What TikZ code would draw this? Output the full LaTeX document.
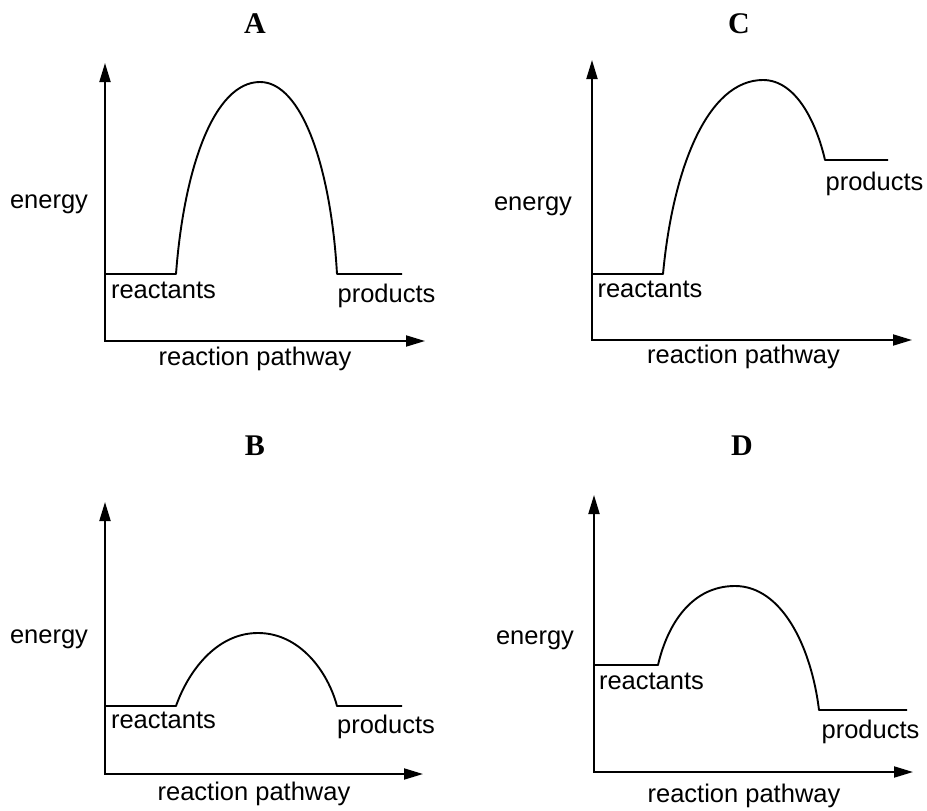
\documentclass[tikz,border=0pt]{standalone}
\usepackage{fontspec}
\setmainfont{Liberation Sans}
\newfontfamily\titlefont{Liberation Serif}
\usetikzlibrary{arrows.meta}

\begin{document}
\begin{tikzpicture}[x=1pt,y=-1pt,
  axis/.style={line width=1.9pt,{Triangle[length=19pt,width=11pt]}-{Triangle[length=19pt,width=11pt]}},
  curve/.style={line width=1.9pt,line join=round},
  lab/.style={font=\fontsize{25.5}{30}\selectfont,inner sep=0pt},
  ttl/.style={font=\titlefont\bfseries\fontsize{30}{34}\selectfont,inner sep=0pt},
  every node/.append style={text height=18pt,text depth=5pt}]
\useasboundingbox (0,0) rectangle (927,811);
\newcommand{\rxnaxes}[5]{
  \coordinate (#1o) at (#2,#3);
  \coordinate (#1t) at (#2,#4);
  \coordinate (#1e) at (#5,#3);
  \draw[axis] (#1t) -- (#1o) -- (#1e);
}
% A
\rxnaxes{A}{105}{341}{63}{425}
\draw[curve] (105,274) -- (176,274) .. controls (184,168) and (214,82) .. (260,82)
  .. controls (302,82) and (331,168) .. (337,274) -- (402,274);
\node[ttl] (Attl) at (255,27.5) {A};
\node[lab] (Aen) at (49,201.5) {energy};
\node[lab] (Arct) at (163.5,291.5) {reactants};
\node[lab] (Aprd) at (386.5,295.5) {products};
\node[lab] (Apath) at (255,358.5) {reaction pathway};
% C
\rxnaxes{C}{592}{340}{60}{912}
\draw[curve] (592,274) -- (663,274) .. controls (673,167) and (708,80) .. (763,80)
  .. controls (797,80) and (817,125) .. (825,160) -- (888,160);
\node[ttl] (Cttl) at (739,27.5) {C};
\node[lab] (Cen) at (533,203.5) {energy};
\node[lab] (Crct) at (650,290.5) {reactants};
\node[lab] (Cprd) at (874.5,183.5) {products};
\node[lab] (Cpath) at (743.5,356.5) {reaction pathway};
% B
\rxnaxes{B}{105}{774}{502}{423}
\draw[curve] (105,706) -- (176,706) .. controls (188,672) and (216,633) .. (258,633)
  .. controls (300,633) and (328,672) .. (337,706) -- (402,706);
\node[ttl] (Bttl) at (255,448.5) {B};
\node[lab] (Ben) at (49,637) {energy};
\node[lab] (Brct) at (163.5,721.5) {reactants};
\node[lab] (Bprd) at (386,726.5) {products};
\node[lab] (Bpath) at (254,793.5) {reaction pathway};
% D
\rxnaxes{D}{594}{772}{495}{913}
\draw[curve] (594,665) -- (658,665) .. controls (668,622) and (693,586) .. (735,586)
  .. controls (781,586) and (811,645) .. (819,710) -- (907,710);
\node[ttl] (Dttl) at (742,448.5) {D};
\node[lab] (Den) at (535,637.5) {energy};
\node[lab] (Drct) at (651.5,682.5) {reactants};
\node[lab] (Dprd) at (870.5,731.5) {products};
\node[lab] (Dpath) at (744,795.5) {reaction pathway};
\end{tikzpicture}
\end{document}
